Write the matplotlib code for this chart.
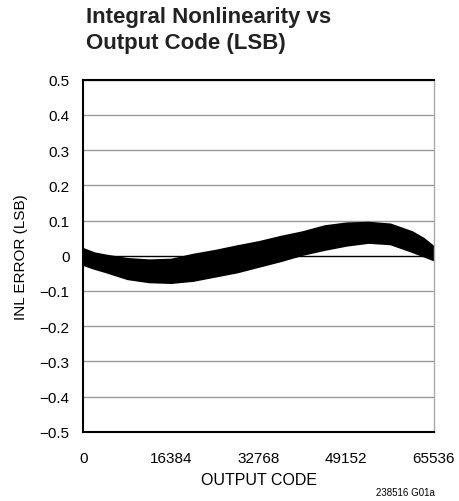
import matplotlib
matplotlib.use("Agg")
import matplotlib.pyplot as plt

plt.rcParams['font.family'] = ['Liberation Sans Narrow', 'Liberation Sans', 'DejaVu Sans']

# envelope of the INL band
codes = [0, 2048, 4096, 8192, 12288, 16384, 20480, 24576, 28672, 32768,
         36864, 40960, 45056, 49152, 53248, 57344, 61440, 63488, 65536]
inl_upper = [0.020, 0.008, 0.002, -0.008, -0.012, -0.010, 0.004, 0.015, 0.028, 0.040,
             0.055, 0.068, 0.085, 0.093, 0.095, 0.090, 0.068, 0.050, 0.025]
inl_lower = [-0.025, -0.036, -0.045, -0.065, -0.074, -0.076, -0.070, -0.058, -0.046, -0.030,
             -0.014, 0.004, 0.018, 0.030, 0.038, 0.034, 0.012, 0.000, -0.012]

xticks = [0, 16384, 32768, 49152, 65536]
yticks = [-0.5, -0.4, -0.3, -0.2, -0.1, 0, 0.1, 0.2, 0.3, 0.4, 0.5]
ylabels = ["\u22120.5", "\u22120.4", "\u22120.3", "\u22120.2", "\u22120.1", "0",
           "0.1", "0.2", "0.3", "0.4", "0.5"]

fig = plt.figure(figsize=(4.60, 5.02), dpi=100)
ax = fig.add_axes([83.3 / 460, 1 - 432.7 / 502, (434 - 83.3) / 460, (432.7 - 80.7) / 502])

for y in yticks:
    if y == 0:
        ax.axhline(y, color="black", lw=1.0, zorder=1)
    else:
        ax.axhline(y, color="#999999", lw=1.0, zorder=1)

ax.fill_between(codes, inl_lower, inl_upper, color="black", lw=1.5, edgecolor="black", zorder=2)

ax.set_xlim(0, 65536)
ax.set_ylim(-0.5, 0.5)
ax.set_xticks(xticks)
ax.set_xticklabels([str(c) for c in xticks])
ax.set_yticks(yticks)
ax.set_yticklabels(ylabels)
ax.tick_params(length=0, labelsize=11)
ax.tick_params(axis="x", pad=14)
ax.tick_params(axis="y", pad=10)

ax.spines["left"].set_linewidth(1.5)
ax.spines["bottom"].set_linewidth(1.5)
ax.spines["top"].set_linewidth(1.5)
ax.spines["right"].set_color("#aaaaaa")
ax.spines["right"].set_linewidth(1.0)

ax.set_xlabel("OUTPUT CODE", fontsize=11.5, labelpad=5)
ax.set_ylabel("INL ERROR (LSB)", fontsize=11, labelpad=8)

fig.text(86 / 460, 1 - 7 / 502, "Integral Nonlinearity vs\nOutput Code (LSB)",
         fontsize=16, fontweight="bold", ha="left", va="top", color="#222222",
         linespacing=1.3)
fig.text(435 / 460, 1 - 498 / 502, "238516 G01a", fontsize=7, ha="right", va="bottom")

fig.savefig("out.png", dpi=100)
